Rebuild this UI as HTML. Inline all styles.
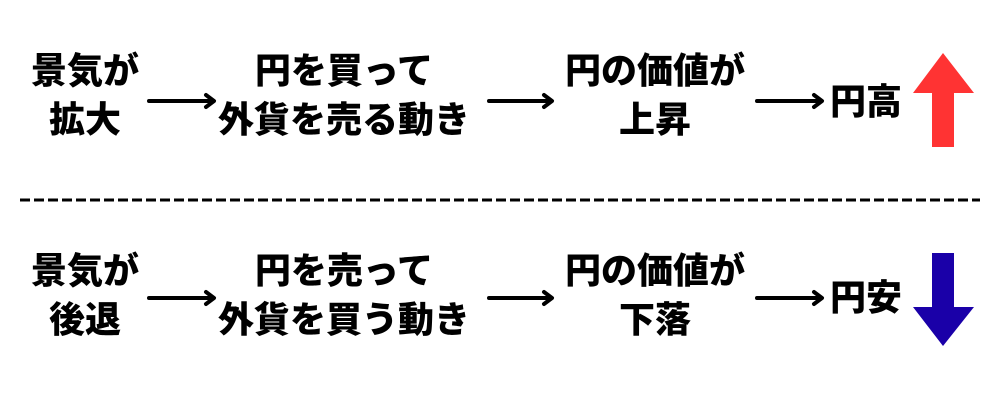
<!DOCTYPE html>
<html><head><meta charset="utf-8"><style>
body{margin:0;width:1000px;height:400px;background:#fff;position:relative;overflow:hidden;font-family:"Liberation Sans","Noto Sans CJK JP",sans-serif;font-weight:900;color:#000}
.t{position:absolute;font-size:36px;line-height:36px;white-space:nowrap;transform:translate(-50%,-50%);letter-spacing:0}
svg{position:absolute;left:0;top:0}
</style></head><body>
<svg width="1000" height="400">
<g stroke="#000" stroke-width="4" fill="none" stroke-linecap="round" stroke-linejoin="round">
<line x1="149" y1="101" x2="213" y2="101"/><polyline points="206,95 214,101 206,107"/>
<line x1="489" y1="101" x2="551" y2="101"/><polyline points="544,95 552,101 544,107"/>
<line x1="757" y1="101" x2="821" y2="101"/><polyline points="814,95 822,101 814,107"/>
<line x1="149" y1="298" x2="213" y2="298"/><polyline points="206,292 214,298 206,304"/>
<line x1="489" y1="298" x2="551" y2="298"/><polyline points="544,292 552,298 544,304"/>
<line x1="757" y1="298" x2="821" y2="298"/><polyline points="814,292 822,298 814,304"/>
</g>
<line x1="20" y1="200" x2="980" y2="200" stroke="#000" stroke-width="3" stroke-dasharray="10,4"/>
<polygon points="943,53 974,93 954,93 954,147 932,147 932,93 913,93" fill="#ff3333"/>
<polygon points="932,253 954,253 954,307 974,307 943,346 913,307 932,307" fill="#1a00a8"/>
</svg>
<div class="t" style="left:85px;top:71px">景気が</div>
<div class="t" style="left:85px;top:120px">拡大</div>
<div class="t" style="left:344px;top:71px">円を買って</div>
<div class="t" style="left:344px;top:120px">外貨を売る動き</div>
<div class="t" style="left:655px;top:71px">円の価値が</div>
<div class="t" style="left:655px;top:120px">上昇</div>
<div class="t" style="left:866px;top:102px">円高</div>
<div class="t" style="left:85px;top:271px">景気が</div>
<div class="t" style="left:85px;top:320px">後退</div>
<div class="t" style="left:344px;top:271px">円を売って</div>
<div class="t" style="left:344px;top:320px">外貨を買う動き</div>
<div class="t" style="left:655px;top:271px">円の価値が</div>
<div class="t" style="left:655px;top:320px">下落</div>
<div class="t" style="left:866px;top:298px">円安</div>
</body></html>
